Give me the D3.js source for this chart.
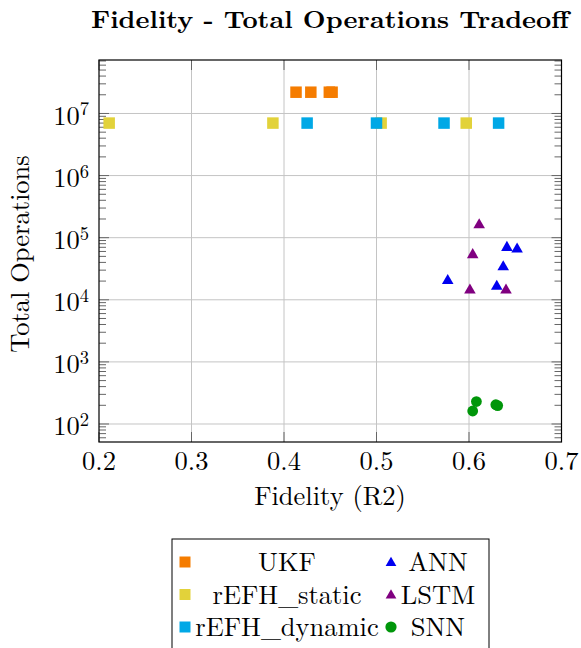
<!DOCTYPE html>
<html>
<head>
<meta charset="utf-8">
<script src="https://cdn.jsdelivr.net/npm/d3@7"></script>
<style>
  body { margin: 0; background: #fff; }
</style>
</head>
<body>
<div class="canvas"></div>
<script>
// data: [fidelity, total operations]
const ukf = [[0.413, 2.2e7], [0.429, 2.2e7], [0.449, 2.2e7], [0.452, 2.2e7]];
const refhStatic = [[0.211, 7e6], [0.388, 7e6], [0.505, 7e6], [0.597, 7e6]];
const refhDynamic = [[0.425, 7e6], [0.500, 7e6], [0.573, 7e6], [0.632, 7e6]];
const ann = [[0.577, 2.1e4], [0.641, 7.2e4], [0.652, 6.8e4], [0.637, 3.5e4], [0.630, 1.7e4]];
const lstm = [[0.611, 1.67e5], [0.604, 5.5e4], [0.601, 1.48e4], [0.640, 1.48e4]];
const snn = [[0.608, 230], [0.604, 162], [0.629, 204], [0.631, 198]];

const xTicks = [0.2, 0.3, 0.4, 0.5, 0.6, 0.7];
const yExponents = [2, 3, 4, 5, 6, 7];
const seriesNames = ['UKF', 'rEFH_static', 'rEFH_dynamic', 'ANN', 'LSTM', 'SNN'];

const series = [
  { name: 'UKF', data: ukf, shape: 'square', color: '#f57c00' },
  { name: 'rEFH_static', data: refhStatic, shape: 'square', color: '#e2d23a' },
  { name: 'rEFH_dynamic', data: refhDynamic, shape: 'square', color: '#00a8e6' },
  { name: 'ANN', data: ann, shape: 'triangle', color: '#0000f0' },
  { name: 'LSTM', data: lstm, shape: 'triangle', color: '#800080' },
  { name: 'SNN', data: snn, shape: 'circle', color: '#00960a' }
];

const font = "'Latin Modern Roman', 'Liberation Serif', serif";
const fs = 26.5;
const dims = { width: 581, height: 648 };
const plot = { left: 99, right: 561.5, top: 60, bottom: 442 };

const svg = d3.select('.canvas')
  .append('svg')
  .attr('width', dims.width)
  .attr('height', dims.height)
  .attr('font-family', font);

const x = d3.scaleLinear()
  .domain([0.2, 0.7])
  .range([plot.left, plot.right]);

const y = d3.scaleLog()
  .domain([51.3, 7.26e7])
  .range([plot.bottom, plot.top]);

// grid
const grid = svg.append('g');
grid.selectAll('line.gx')
  .data(xTicks.slice(1, -1))
  .enter().append('line')
    .attr('x1', d => x(d)).attr('x2', d => x(d))
    .attr('y1', plot.top).attr('y2', plot.bottom)
    .attr('stroke', '#c4c4c4').attr('stroke-width', 1);
grid.selectAll('line.gy')
  .data(yExponents)
  .enter().append('line')
    .attr('x1', plot.left).attr('x2', plot.right)
    .attr('y1', d => y(Math.pow(10, d))).attr('y2', d => y(Math.pow(10, d)))
    .attr('stroke', '#c4c4c4').attr('stroke-width', 1);

// ticks (inside, both sides)
const ticks = svg.append('g').attr('stroke', '#666').attr('stroke-width', 1);
xTicks.forEach(t => {
  ticks.append('line').attr('x1', x(t)).attr('x2', x(t)).attr('y1', plot.bottom).attr('y2', plot.bottom - 10);
  ticks.append('line').attr('x1', x(t)).attr('x2', x(t)).attr('y1', plot.top).attr('y2', plot.top + 10);
});
const [yMin, yMax] = y.domain();
for (let e = 1; e <= 7; e++) {
  for (let m = 1; m <= 9; m++) {
    const v = m * Math.pow(10, e);
    if (v < yMin || v > yMax) continue;
    const len = m === 1 ? 10 : 7;
    ticks.append('line').attr('x1', plot.left).attr('x2', plot.left + len).attr('y1', y(v)).attr('y2', y(v));
    ticks.append('line').attr('x1', plot.right).attr('x2', plot.right - len).attr('y1', y(v)).attr('y2', y(v));
  }
}

// marks
const symbols = { square: d3.symbolSquare, triangle: d3.symbolTriangle, circle: d3.symbolCircle };
const sizes = { square: 11.5 * 11.5, triangle: 58, circle: Math.PI * 5.4 * 5.4 };

const marks = svg.append('g');
series.forEach(s => {
  marks.selectAll(null)
    .data(s.data)
    .enter().append('path')
      .attr('d', d3.symbol().type(symbols[s.shape]).size(sizes[s.shape]))
      .attr('transform', d => `translate(${x(d[0])}, ${y(d[1]) + (s.shape === 'triangle' ? 1 : 0)})`)
      .attr('fill', s.color);
});

// frame
svg.append('rect')
  .attr('x', plot.left).attr('y', plot.top)
  .attr('width', plot.right - plot.left).attr('height', plot.bottom - plot.top)
  .attr('fill', 'none').attr('stroke', '#000').attr('stroke-width', 1.2);

// tick labels
svg.append('g').selectAll('text')
  .data(xTicks)
  .enter().append('text')
    .attr('x', d => x(d))
    .attr('y', 469.5)
    .attr('text-anchor', 'middle')
    .attr('font-size', fs)
    .text(d => d3.format('.1f')(d));

const yLabels = svg.append('g').selectAll('text')
  .data(yExponents)
  .enter().append('text')
    .attr('x', 89)
    .attr('y', d => y(Math.pow(10, d)) + 11.5)
    .attr('text-anchor', 'end')
    .attr('font-size', fs);
yLabels.append('tspan').text('10');
yLabels.append('tspan').attr('dy', -9.5).attr('font-size', fs * 0.7).text(d => d);

// axis titles
svg.append('text')
  .attr('x', 330).attr('y', 505)
  .attr('text-anchor', 'middle').attr('font-size', fs)
  .text('Fidelity (R2)');

svg.append('text')
  .attr('transform', 'translate(29, 254) rotate(-90)')
  .attr('text-anchor', 'middle').attr('font-size', fs)
  .text('Total Operations');

svg.append('text')
  .attr('x', 330).attr('y', 27.5)
  .attr('text-anchor', 'middle').attr('font-size', 24.5).attr('font-weight', 'bold')
  .attr('textLength', 478).attr('lengthAdjust', 'spacingAndGlyphs')
  .text('Fidelity - Total Operations Tradeoff');

// legend
const legend = svg.append('g');
legend.append('rect')
  .attr('x', 172).attr('y', 539)
  .attr('width', 317).attr('height', 120)
  .attr('fill', '#fff').attr('stroke', '#000').attr('stroke-width', 1);

const legendCols = [{ mark: 185, text: 287 }, { mark: 391, text: 438 }];
const legendRows = [562, 594.5, 627];
const legendSizes = { square: 11 * 11, triangle: 50, circle: Math.PI * 5.6 * 5.6 };

series.forEach((s, i) => {
  const col = legendCols[Math.floor(i / 3)];
  const row = legendRows[i % 3];
  legend.append('path')
    .attr('d', d3.symbol().type(symbols[s.shape]).size(legendSizes[s.shape]))
    .attr('transform', `translate(${col.mark}, ${row + (s.shape === 'triangle' ? 1 : 0)})`)
    .attr('fill', s.color);
  legend.append('text')
    .attr('x', col.text).attr('y', row + 9)
    .attr('text-anchor', 'middle').attr('font-size', fs)
    .text(seriesNames[i]);
});
</script>
</body>
</html>
